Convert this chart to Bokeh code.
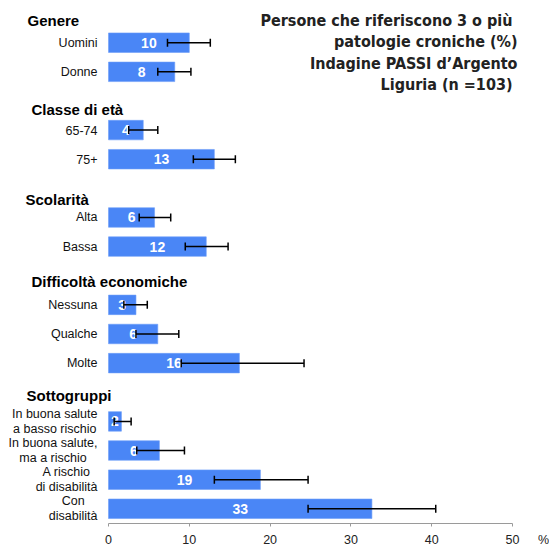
from bokeh.plotting import figure
from bokeh.models import (Range1d, ColumnDataSource, Whisker, TeeHead, Label, FixedTicker,
                          LinearAxis)
from bokeh.core.properties import value
from bokeh.embed import file_html
from bokeh.resources import INLINE

# ---------------- data ----------------
group_names = ["Genere", "Classe di età", "Scolarità", "Difficoltà economiche", "Sottogruppi"]
group_sizes = [2, 2, 2, 3, 4]
categories = ["Uomini", "Donne", "65-74", "75+", "Alta", "Bassa",
              "Nessuna", "Qualche", "Molte",
              "In buona salute\na basso rischio", "In buona salute,\nma a rischio",
              "A rischio\ndi disabilità", "Con\ndisabilità"]
values = [10.0, 8.2, 4.3, 13.1, 5.7, 12.1, 3.4, 6.1, 16.2, 1.6, 6.3, 18.8, 32.6]
ci_low = [7.3, 6.1, 2.5, 10.5, 3.8, 9.5, 1.9, 3.4, 9.0, 0.7, 3.5, 13.1, 24.7]
ci_high = [12.6, 10.2, 6.1, 15.7, 7.7, 14.8, 4.8, 8.7, 24.2, 2.8, 9.4, 24.7, 40.5]
value_labels = ["10", "8", "4", "13", "6", "12", "3", "6", "16", "2", "6", "19", "33"]
x_ticks = [0, 10, 20, 30, 40, 50]
title_lines = ["Persone che riferiscono  3 o più", "patologie croniche (%)",
               "Indagine PASSI d’Argento", "Liguria (n  =103)"]
unit_label = "%"

# ---------------- layout (pixels) ----------------
W, H = 549, 550
BORDER_BOTTOM = 27
FRAME_H = H - BORDER_BOTTOM
PX_PER_UNIT = 8.08
X0 = 108                    # canvas x of value 0
ROW_STEP = 29.13            # px per slot
SLOT1_Y = 42.2              # canvas y of slot 1
UNIT_LABEL_PX = 543         # canvas x of the "%" unit label centre
heading_x = [27, 31, 25, 31, 26]          # canvas x of headings
heading_dy = [7, 8.5, 11, 6, 3]           # px offset of headings below their slot
LABEL_GAP = 11
LINE_SP = 15
CAT_FS = 12.5

# Arial/Liberation Sans advance widths (1/1000 em) for label centering
AW = {" ": 278, ",": 278, "A": 667, "C": 722, "I": 278, "a": 556, "b": 556, "c": 500,
      "d": 556, "e": 556, "h": 556, "i": 222, "l": 222, "m": 833, "n": 556, "o": 556,
      "r": 333, "s": 500, "t": 278, "u": 556, "à": 556}
def tw(s, fs):
    return sum(AW.get(ch, 556) for ch in s) * fs / 1000.0

# slots
row_slots, head_slots = [], []
k = 0
for n in group_sizes:
    head_slots.append(k)
    k += 1
    for _ in range(n):
        row_slots.append(k)
        k += 1

y_top = 1 - SLOT1_Y / ROW_STEP
y_bot = 1 + (FRAME_H - SLOT1_Y) / ROW_STEP

p = figure(width=W, height=H, output_backend="svg", toolbar_location=None,
           x_range=Range1d(-X0 / PX_PER_UNIT, (W - X0) / PX_PER_UNIT),
           y_range=Range1d(y_bot, y_top),
           x_axis_location=None, y_axis_location=None,
           min_border_left=0, min_border_right=0, min_border_top=0,
           min_border_bottom=BORDER_BOTTOM)
p.outline_line_color = None
p.xgrid.visible = False
p.ygrid.visible = False
p.background_fill_color = "white"

bar_src = ColumnDataSource(dict(
    y=row_slots, v=values, lo=ci_low, hi=ci_high, lab=value_labels,
    mid=[v / 2 for v in values]))

p.hbar(y="y", left=0, right="v", height=0.67, source=bar_src,
       fill_color="#4a86f6", line_color="#6d9ef8", line_width=0.6)

p.text(x="mid", y="y", text="lab", source=bar_src, text_color="white",
       text_font=value("Liberation Sans"), text_font_style="bold",
       text_font_size="14px", text_align="center", text_baseline="middle")

whisk = Whisker(source=bar_src, base="y", lower="lo", upper="hi", dimension="width",
                line_color="black", line_width=1.5, level="overlay",
                lower_head=TeeHead(size=8, line_color="black", line_width=1.5),
                upper_head=TeeHead(size=8, line_color="black", line_width=1.5))
p.add_layout(whisk)

# category labels (lines centered within a right-aligned block)
lx, ly, lt, lxo, lyo = [], [], [], [], []
for cat, s in zip(categories, row_slots):
    lines = cat.split("\n")
    bw = max(tw(l, CAT_FS) for l in lines)
    n = len(lines)
    for i, l in enumerate(lines):
        lx.append(0)
        ly.append(s)
        lt.append(l)
        lxo.append(-LABEL_GAP - (bw - tw(l, CAT_FS)) / 2)
        lyo.append((i - (n - 1) / 2) * LINE_SP)
p.text(x="x", y="y", text="t", x_offset="xo", y_offset="yo",
       source=ColumnDataSource(dict(x=lx, y=ly, t=lt, xo=lxo, yo=lyo)),
       text_font=value("Liberation Sans"), text_font_size=f"{CAT_FS}px",
       text_color="#111111", text_align="right", text_baseline="middle")

# group headings
p.text(x=[0] * len(group_names), y=head_slots, text=group_names,
       x_offset=[hx - X0 for hx in heading_x], y_offset=heading_dy,
       text_font=value("Liberation Sans"), text_font_style="bold",
       text_font_size="15px", text_color="black",
       text_align="left", text_baseline="middle")

# x axis: line + ticks (bounded 0..50), no labels drawn
ax_line = LinearAxis(ticker=FixedTicker(ticks=x_ticks), bounds=(x_ticks[0], x_ticks[-1]),
                     axis_line_color="#9a9a9a", major_tick_line_color="#9a9a9a",
                     major_tick_out=3, major_tick_in=0, minor_tick_line_color=None,
                     major_label_text_color=None, major_label_standoff=0)
p.add_layout(ax_line, "below")

# x axis: tick labels plus the unit label "%"
unit_x = (UNIT_LABEL_PX - X0) / PX_PER_UNIT
label_overrides = {t: str(t) for t in x_ticks}
label_overrides[unit_x] = unit_label
ax_lab = LinearAxis(ticker=FixedTicker(ticks=x_ticks + [unit_x]),
                    major_label_overrides=label_overrides,
                    axis_line_color=None, major_tick_line_color=None,
                    minor_tick_line_color=None, major_tick_out=0, major_tick_in=0,
                    major_label_standoff=6,
                    major_label_text_font="Liberation Sans",
                    major_label_text_font_size="12.5px",
                    major_label_text_color="#222222")
p.add_layout(ax_lab, "below")

# title
for i, line in enumerate(title_lines):
    p.add_layout(Label(x=517, y=FRAME_H - (19.5 + i * 21.5), x_units="screen",
                       y_units="screen", text=line,
                       text_font="'DejaVu Sans Condensed', 'Liberation Sans Narrow', sans-serif",
                       text_font_style="bold", text_font_size="16px",
                       text_color="#222222", text_align="right", text_baseline="middle"))

open("out.html", "w").write(file_html(p, INLINE))
